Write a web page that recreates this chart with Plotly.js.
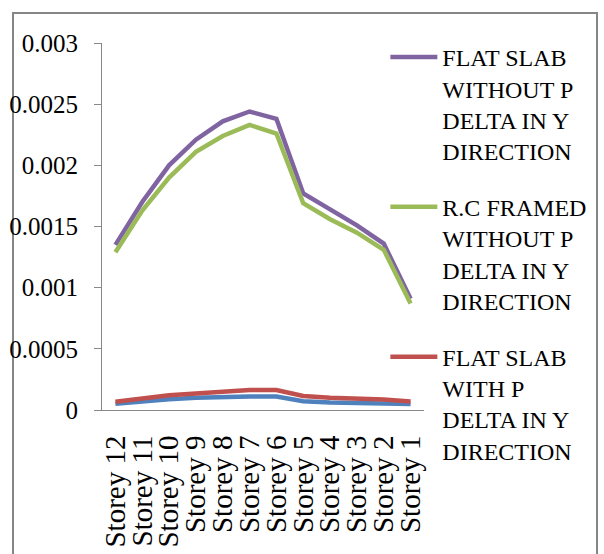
<!DOCTYPE html>
<html>
<head>
<meta charset="utf-8">
<script src="https://cdn.plot.ly/plotly-3.0.1.min.js"></script>
<style>
  html, body { margin: 0; padding: 0; background: #ffffff; overflow: hidden; }
  #frame { position: absolute; left: 12px; top: 12px; width: 586px; height: 600px; border: 2px solid #868686; box-sizing: border-box; }
  #chart { position: absolute; left: 0; top: 0; width: 604px; height: 554px; }
</style>
</head>
<body>
<div id="frame"></div>
<div id="chart"></div>
<script>
const storeys = ["Storey 12", "Storey 11", "Storey 10", "Storey 9", "Storey 8", "Storey 7",
                 "Storey 6", "Storey 5", "Storey 4", "Storey 3", "Storey 2", "Storey 1"];

const flatSlabWithoutPDelta = [0.00135, 0.00170, 0.00200, 0.00221, 0.00236, 0.00244,
                               0.00238, 0.00177, 0.00164, 0.00151, 0.00136, 0.00091];
const rcFramedWithoutPDelta = [0.00129, 0.00163, 0.00190, 0.00211, 0.00224, 0.00233,
                               0.00226, 0.00169, 0.00156, 0.00145, 0.00131, 0.00087];
const flatSlabWithPDelta    = [0.000068, 0.000095, 0.000120, 0.000135, 0.000150, 0.000163,
                               0.000163, 0.000114, 0.000100, 0.000095, 0.000085, 0.000070];
const rcFramedWithPDelta    = [0.000050, 0.000070, 0.000088, 0.000100, 0.000108, 0.000110,
                               0.000110, 0.000072, 0.000062, 0.000060, 0.000055, 0.000050];

const yTickVals = [0, 0.0005, 0.001, 0.0015, 0.002, 0.0025, 0.003];
const yTickText = ["0", "0.0005", "0.001", "0.0015", "0.002", "0.0025", "0.003"];

const seriesNames = [
  "FLAT SLAB<br>WITHOUT P<br>DELTA IN Y<br>DIRECTION",
  "R.C FRAMED<br>WITHOUT P<br>DELTA IN Y<br>DIRECTION",
  "FLAT SLAB<br>WITH P<br>DELTA IN Y<br>DIRECTION",
  "R.C FRAMED<br>WITH P<br>DELTA IN Y<br>DIRECTION"
];
const seriesColors = ["#8064A2", "#9BBB59", "#C0504D", "#4F81BD"];

const font = "Liberation Serif";

function trace(y, i, show) {
  return {
    x: storeys, y: y, type: "scatter", mode: "lines",
    name: seriesNames[i], legendgroup: "g" + i, showlegend: show,
    line: { color: seriesColors[i], width: 4.5 }
  };
}

const data = [
  trace(flatSlabWithoutPDelta, 0, true),
  trace(rcFramedWithoutPDelta, 1, true),
  trace(rcFramedWithPDelta, 3, false),
  trace(flatSlabWithPDelta, 2, true)
];

const layout = {
  width: 604, height: 554,
  margin: { l: 102, r: 174, t: 43, b: 144 },
  paper_bgcolor: "rgba(0,0,0,0)",
  plot_bgcolor: "rgba(0,0,0,0)",
  font: { family: font, size: 24, color: "#000000" },
  showlegend: true,
  legend: {
    x: 0.88, xanchor: "left", y: 1.022, yanchor: "top",
    traceorder: "grouped", tracegroupgap: 22,
    valign: "top", itemwidth: 47, maxheight: 600,
    font: { family: font, size: 24, color: "#000000" },
    bgcolor: "rgba(0,0,0,0)"
  },
  xaxis: {
    type: "category", range: [-0.5, 11.5],
    tickmode: "array", tickvals: storeys, ticktext: storeys,
    showgrid: false, zeroline: false,
    showline: true, linecolor: "#888888", linewidth: 1,
    ticks: "", tickangle: -90, ticklabelstandoff: 13,
    tickfont: { family: font, size: 29, color: "#000000" }
  },
  yaxis: {
    range: [0, 0.003],
    tickvals: yTickVals, ticktext: yTickText,
    showgrid: false, zeroline: false,
    showline: true, linecolor: "#888888", linewidth: 1,
    ticks: "outside", ticklen: 7, tickcolor: "#888888", ticklabelstandoff: 11,
    tickfont: { family: font, size: 25, color: "#000000" }
  }
};

Plotly.newPlot("chart", data, layout, { staticPlot: true, displayModeBar: false });
</script>
</body>
</html>
